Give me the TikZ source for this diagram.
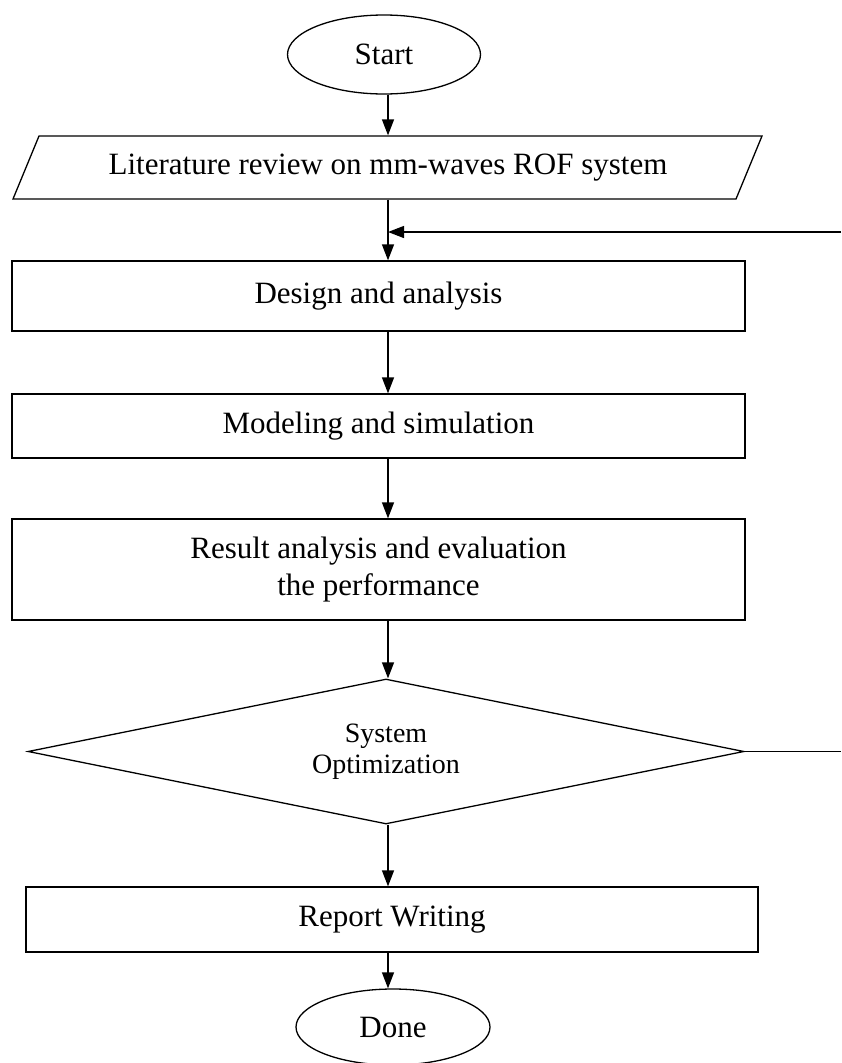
\documentclass[tikz,border=0pt]{standalone}
\usepackage{fontspec}
\setmainfont{Liberation Serif}
\usetikzlibrary{shapes.geometric,arrows.meta}
\begin{document}
\begin{tikzpicture}[x=1pt,y=-1pt,line width=1.3pt,
		term/.style={draw,ellipse,minimum width=193pt,minimum height=79pt,inner sep=0pt,font=\fontsize{31}{37}\selectfont},
		proc/.style={draw,rectangle,minimum width=733pt,inner sep=0pt,align=center,font=\fontsize{31}{37}\selectfont},
		deci/.style={draw,diamond,aspect=4.94,minimum width=716pt,minimum height=145pt,inner sep=0pt,align=center,font=\fontsize{28}{31}\selectfont},
		flow/.style={-{Triangle[length=16pt,width=12pt]}}]
			\useasboundingbox (0,0) rectangle (841,1063);
			\coordinate (A) at (39,136); \coordinate (B) at (762,136);
			\coordinate (C) at (736,199); \coordinate (D) at (13,199);
			\coordinate (back) at (841,232); \coordinate (out) at (841,752);
			\draw (A)--(B)--(C)--(D)--cycle;
			\node[term] (start) at (384,54.5) {Start};
			\node[inner sep=0pt,minimum height=63pt,font=\fontsize{31}{37}\selectfont] (lit) at (388,167.5) {Literature review on mm-waves ROF system};
			\node[proc,minimum height=70pt] (design) at (378.5,296) {Design and analysis};
			\node[proc,minimum height=64pt] (model) at (378.5,426) {Modeling and simulation};
			\node[proc,minimum height=101pt] (result) at (378.5,569.5) {Result analysis and evaluation\\the performance};
			\node[deci] (opt) at (386,751.5) {System\\Optimization};
			\node[proc,minimum width=732pt,minimum height=65pt] (report) at (392,919.5) {Report Writing};
			\node[term,minimum width=194pt,minimum height=76pt] (done) at (393,1027) {Done};
			\draw[flow] (start.south -| lit.north) -- (lit.north);
			\draw[flow] (lit.south) -- (lit.south |- design.north);
			\draw[flow] (back) -- (back -| lit.south);
			\draw[flow] (lit.south |- design.south) -- (lit.south |- model.north);
			\draw[flow] (lit.south |- model.south) -- (lit.south |- result.north);
			\draw[flow] (lit.south |- result.south) -- (lit.south |- opt.north);
			\draw (opt.east) -- (opt.east -| out);
			\draw[flow] (lit.south |- opt.south) -- (lit.south |- report.north);
			\draw[flow] (lit.south |- report.south) -- (lit.south |- done.north);
		\end{tikzpicture}
\end{document}
